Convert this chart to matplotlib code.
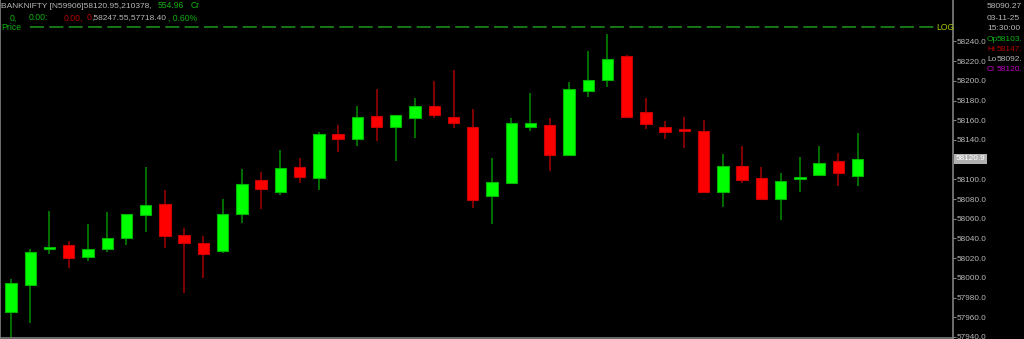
import matplotlib
matplotlib.use("Agg")
import matplotlib.pyplot as plt
import numpy as np

# OHLC (BANKNIFTY, 45 bars)
opens = [57965.0, 57992.4, 58029.6, 58033.0, 58020.9, 58029.0, 58040.1, 58064.1, 58075.0, 58043.2,
         58035.1, 58027.6, 58064.8, 58099.6, 58086.8, 58112.2, 58101.4, 58146.0, 58141.3, 58164.3,
         58153.4, 58162.6, 58174.8, 58163.6, 58152.8, 58083.4, 58096.3, 58153.1, 58155.5, 58124.7,
         58189.7, 58200.5, 58225.2, 58168.1, 58152.8, 58151.1, 58149.4, 58087.4, 58113.5, 58101.7,
         58080.3, 58100.0, 58104.1, 58118.9, 58103.1]
highs = [57998.8, 58029.0, 58067.9, 58037.7, 58055.0, 58066.5, 58065.0, 58112.2, 58089.5, 58050.6,
         58042.8, 58080.3, 58110.5, 58107.1, 58130.1, 58122.0, 58147.8, 58155.5, 58174.2, 58191.4,
         58165.3, 58182.9, 58199.8, 58211.0, 58171.4, 58121.4, 58162.6, 58188.0, 58162.6, 58198.5,
         58230.3, 58247.55, 58226.2, 58182.9, 58159.2, 58163.3, 58159.9, 58126.0, 58133.6, 58112.8,
         58106.4, 58123.0, 58133.5, 58127.0, 58147.4]
lows = [57937.0, 57953.9, 58023.9, 58010.3, 58017.1, 58026.5, 58033.6, 58046.8, 58030.6, 57984.9,
        58000.1, 58025.5, 58055.4, 58069.9, 58084.4, 58096.6, 58089.2, 58127.4, 58133.5, 58139.2,
        58118.6, 58142.0, 58162.6, 58152.4, 58071.2, 58054.7, 58096.0, 58149.4, 58108.8, 58124.5,
        58183.3, 58194.0, 58163.0, 58150.8, 58141.0, 58132.1, 58086.6, 58072.2, 58096.3, 58080.1,
        58058.7, 58087.4, 58103.9, 58092.9, 58092.9]
closes = [57994.5, 58025.9, 58031.6, 58019.8, 58029.6, 58040.4, 58064.5, 58074.3, 58042.8, 58035.1,
          58024.2, 58065.1, 58095.3, 58089.9, 58111.2, 58102.7, 58145.7, 58141.3, 58163.6, 58153.1,
          58165.0, 58174.8, 58165.3, 58157.5, 58079.3, 58097.6, 58156.9, 58156.9, 58124.7, 58192.0,
          58200.5, 58221.9, 58163.3, 58155.9, 58148.4, 58149.4, 58086.8, 58113.5, 58099.3, 58080.3,
          58098.3, 58102.4, 58116.9, 58106.7, 58120.95]

y_ticks = np.arange(57940, 58241, 20)
log_line = 58254.3
last_price = "58120.9"

bg = "black"
grey = "#b8b8b8"
txt_green = "#10b010"
txt_red = "#b80000"
font = "Liberation Sans"

fig = plt.figure(figsize=(10.24, 3.39), dpi=100, facecolor=bg)
ax = fig.add_axes([0, 1 / 339, 953 / 1024, 338 / 339], facecolor=bg)

x = np.arange(len(opens))
w = 0.59
for i in x:
    o, h, l, c = opens[i], highs[i], lows[i], closes[i]
    up = c >= o
    wick = "#007800" if up else "#8a0000"
    body = "#00ff00" if up else "#ff0000"
    edge = "#00b400" if up else "#c80000"
    ax.vlines(i, l, h, color=wick, lw=1.3, zorder=2)
    lo, hi = min(o, c), max(o, c)
    ax.bar(i, max(hi - lo, 0.6), width=w, bottom=lo, color=body, edgecolor=edge, lw=0.8, zorder=3)

ax.axhline(log_line, xmin=30 / 953, xmax=934 / 953, color="#1a8a1a", lw=1.2, dashes=(8.4, 3.2))

ax.set_xlim(-11 / 19.24, 942 / 19.24)
ax.set_ylim(57938.9, 58282.05)
ax.set_xticks([])
ax.yaxis.tick_right()
ax.set_yticks(y_ticks)
ax.set_yticklabels([f"{v:.1f}" for v in y_ticks], family=font)
ax.tick_params(axis="y", colors="#808080", labelcolor=grey, length=2.5, width=0.8, pad=0.3, labelsize=5.9)
ax.spines["top"].set_visible(False)
for s in ["left", "bottom", "right"]:
    ax.spines[s].set_color("#808080")
    ax.spines[s].set_linewidth(1.2)

# last price box on the axis
ax.text(1.003, 58120.95, last_price, transform=ax.get_yaxis_transform(), fontsize=5.9,
        color="white", va="center", ha="left", family=font,
        bbox=dict(boxstyle="square,pad=0.2", fc="#b0b0b0", ec="none"), zorder=5)

# header text (pixel positions)
def ftext(px, py, s, color, size=6.2):
    fig.text(px / 1024, 1 - py / 339, s, color=color, fontsize=size, va="center", ha="left",
             family=font)

ftext(1, 6, "BANKNIFTY [N59906]58120.95,210378,", grey, 6.0)
ftext(158, 6, "554.96", txt_green)
ftext(191, 6, "Cr", txt_green)
ftext(10, 18, "0,", txt_green)
ftext(29, 18, "0.00:", txt_green)
ftext(64, 18, "0.00,", txt_red)
ftext(87, 18, "0", txt_red)
ftext(91, 18, ",58247.55,57718.40", grey, 6.0)
ftext(168, 18, ", 0.60%", txt_green)
ftext(1, 28, "Price", txt_green)
ftext(936, 28, "LOG", "#a8c800")

# info panel on the right
ftext(987, 7, "58090.27", grey, 6.0)
ftext(987, 18, "03-11-25", grey, 6.0)
ftext(987, 29, "15:30:00", grey, 6.0)
ftext(987, 39.5, "Op", txt_green, 6.0)
ftext(997, 39.5, "58103.", txt_green, 6.0)
ftext(987, 49.5, "Hi", txt_red, 6.0)
ftext(997, 49.5, "58147.", txt_red, 6.0)
ftext(987, 59.5, "Lo", grey, 6.0)
ftext(997, 59.5, "58092.", grey, 6.0)
ftext(987, 69.5, "Cl", "#c000c0", 6.0)
ftext(997, 69.5, "58120.", "#c000c0", 6.0)

fig.savefig("out.png", dpi=100, facecolor=bg)
